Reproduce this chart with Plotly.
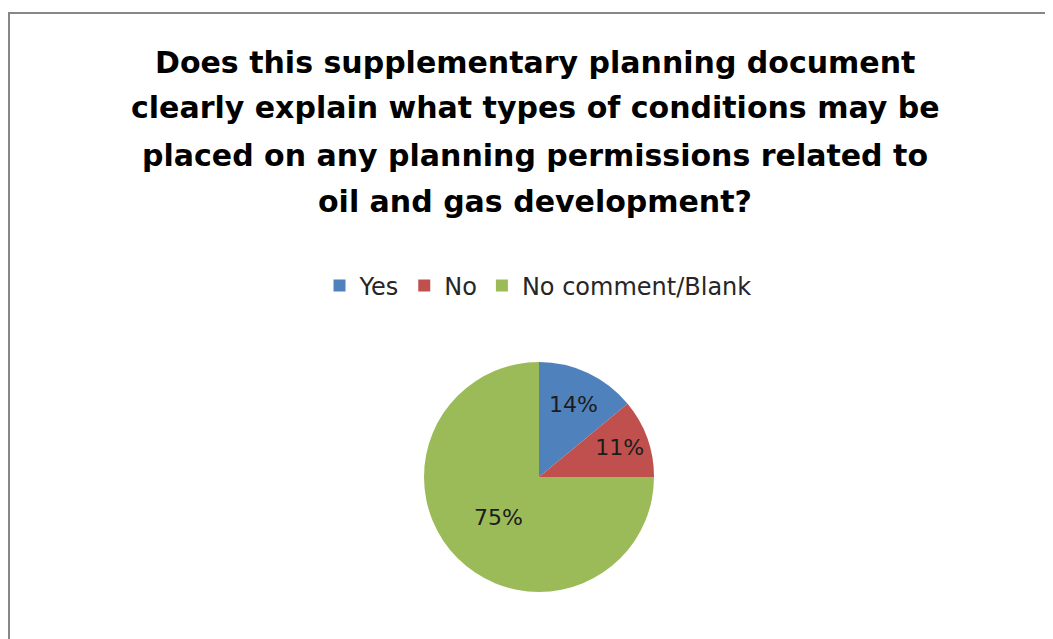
import plotly.graph_objects as go

labels = ["Yes", "No", "No comment/Blank"]
values = [14, 11, 75]
colors = ["#4F81BD", "#C0504D", "#9BBB59"]
title_lines = [
    "Does this supplementary planning document",
    "clearly explain what types of conditions may be",
    "placed on any planning permissions related to",
    "oil and gas development?",
]

OFF = 8  # page body margin
W, H = 1053 - OFF, 639 - OFF


def px(x):
    return (x - OFF) / W


def py(y):
    return 1 - (y - OFF) / H


cx, cy, r = 539, 477, 115
FONT = "DejaVu Sans, Calibri, sans-serif"

fig = go.Figure(go.Pie(
    labels=labels, values=values, sort=False, direction="clockwise", rotation=0,
    marker=dict(colors=colors, line=dict(width=0)),
    texttemplate="%{percent:.0%}", textposition="inside",
    insidetextorientation="horizontal",
    textfont=dict(family=FONT, size=22, color="#1c1c1c"),
    domain=dict(x=[px(cx - r), px(cx + r)], y=[py(cy + r), py(cy - r)]),
    hoverinfo="label+percent",
))

title_baselines = [75, 121, 168, 215]
for line, yb in zip(title_lines, title_baselines):
    fig.add_annotation(
        text="<b>" + line + "</b>", xref="paper", yref="paper",
        x=px(535), y=py(yb - 13), xanchor="center", yanchor="middle", showarrow=False,
        font=dict(family=FONT, size=30, color="#000000"),
    )

fig.add_shape(type="rect", xref="paper", yref="paper",
              x0=px(9), x1=1.05, y0=-0.05, y1=py(13),
              line=dict(color="#878787", width=2), fillcolor="rgba(0,0,0,0)")

fig.update_layout(
    width=W, height=H, margin=dict(l=0, r=0, t=0, b=0),
    paper_bgcolor="white", plot_bgcolor="white",
    showlegend=True,
    legend=dict(orientation="h", x=px(538), xanchor="center", y=py(286), yanchor="middle",
                font=dict(family=FONT, size=24, color="#262626"),
                itemsizing="constant", traceorder="normal"),
)

fig.write_html("out.html")
